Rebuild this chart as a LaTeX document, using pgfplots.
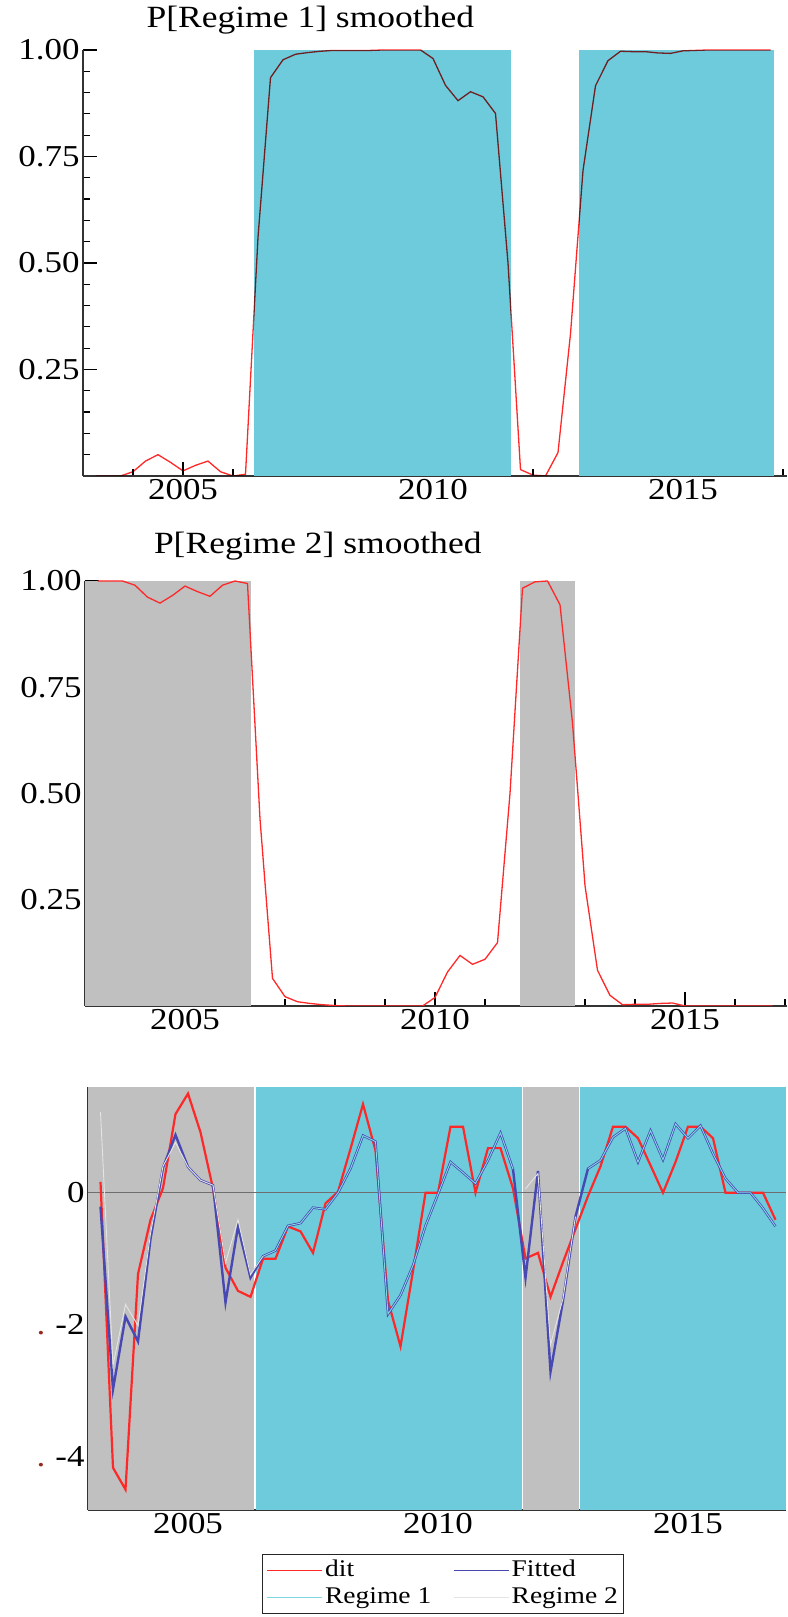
\documentclass[border=0pt]{standalone}
\usepackage{pgfplots}
\pgfplotsset{compat=1.18}
\usepackage{fontspec}
\setmainfont{Liberation Serif}[FakeStretch=1.15]

\definecolor{regA}{RGB}{110,203,219}
\definecolor{regB}{RGB}{192,192,192}
\definecolor{ditred}{RGB}{255,40,40}
\definecolor{fitblue}{RGB}{72,72,178}
\definecolor{reg1line}{RGB}{130,215,230}
\definecolor{reg2line}{RGB}{228,228,228}
\definecolor{zeroline}{RGB}{110,110,110}
\definecolor{dotred}{RGB}{150,40,30}

\pgfplotsset{
  oxstyle/.style={
    scale only axis,
    axis lines=left,
    axis line style={-, draw=black!80, line width=1.8bp},
    every tick/.style={black, line width=1.2bp},
    major tick length=14bp, minor tick length=7bp,
    tick align=inside,
    tick label style={font=\fontsize{30.5}{36}\selectfont},
    xtick={2005,2010,2015}, xticklabels={2005,2010,2015},
    minor xtick={2003,2004,...,2017},
    title style={anchor=base west, inner sep=0pt, font=\fontsize{31}{36}\selectfont},
  },
  probstyle/.style={
    ymin=0, ymax=1,
    ytick={0.25,0.5,0.75,1}, yticklabels={0.25,0.50,0.75,1.00},
    minor ytick={0.05,0.1,0.15,0.2,0.3,0.35,0.4,0.45,0.55,0.6,0.65,0.7,0.8,0.85,0.9,0.95},
  },
}

\pgfplotstableread{
t p1 p2
2003.25 0.000 1.000
2003.50 0.000 1.000
2003.75 0.000 1.000
2004.00 0.010 0.990
2004.25 0.035 0.962
2004.50 0.050 0.948
2004.75 0.032 0.966
2005.00 0.012 0.988
2005.25 0.025 0.975
2005.50 0.035 0.964
2005.75 0.010 0.990
2006.00 0.000 1.000
2006.25 0.004 0.994
2006.50 0.560 0.440
2006.75 0.935 0.065
2007.00 0.977 0.022
2007.25 0.990 0.010
2007.50 0.994 0.006
2007.75 0.997 0.003
2008.00 0.999 0.001
2008.25 0.999 0.000
2008.50 0.999 0.000
2008.75 0.999 0.000
2009.00 1.000 0.000
2009.25 1.000 0.000
2009.50 1.000 0.000
2009.75 1.000 0.000
2010.00 0.980 0.020
2010.25 0.917 0.080
2010.50 0.881 0.119
2010.75 0.902 0.098
2011.00 0.890 0.110
2011.25 0.851 0.149
2011.50 0.500 0.500
2011.75 0.015 0.983
2012.00 0.002 0.998
2012.25 0.000 1.000
2012.50 0.055 0.944
2012.75 0.334 0.666
2013.00 0.717 0.283
2013.25 0.916 0.084
2013.50 0.975 0.025
2013.75 0.997 0.003
2014.00 0.996 0.004
2014.25 0.996 0.004
2014.50 0.993 0.006
2014.75 0.992 0.007
2015.00 0.998 0.000
2015.25 0.999 0.000
2015.50 1.000 0.000
2015.75 1.000 0.000
2016.00 1.000 0.000
2016.25 1.000 0.000
2016.50 1.000 0.000
2016.75 1.000 0.000
}\probs

\pgfplotstableread{
t dit fitted
2003.25 0.165 -0.210
2003.50 -4.160 -2.975
2003.75 -4.490 -1.875
2004.00 -1.230 -2.250
2004.25 -0.410 -0.700
2004.50 0.070 0.380
2004.75 1.190 0.875
2005.00 1.500 0.390
2005.25 0.915 0.190
2005.50 0.065 0.115
2005.75 -1.135 -1.660
2006.00 -1.485 -0.510
2006.25 -1.575 -1.285
2006.50 -1.000 -0.960
2006.75 -1.000 -0.875
2007.00 -0.510 -0.500
2007.25 -0.585 -0.460
2007.50 -0.910 -0.225
2007.75 -0.160 -0.250
2008.00 0.015 0.000
2008.25 0.665 0.365
2008.50 1.340 0.865
2008.75 0.640 0.775
2009.00 -1.635 -1.835
2009.25 -2.325 -1.550
2009.50 -1.185 -1.100
2009.75 0.000 -0.500
2010.00 0.000 -0.020
2010.25 1.000 0.465
2010.50 1.000 0.305
2010.75 0.000 0.140
2011.00 0.675 0.490
2011.25 0.675 0.905
2011.50 0.065 0.355
2011.75 -0.995 -1.285
2012.00 -0.910 0.330
2012.25 -1.575 -2.710
2012.50 -1.050 -1.635
2012.75 -0.550 -0.360
2013.00 -0.050 0.365
2013.25 0.400 0.490
2013.50 1.000 0.840
2013.75 1.000 0.975
2014.00 0.825 0.465
2014.25 0.415 0.940
2014.50 0.000 0.500
2014.75 0.465 1.040
2015.00 1.000 0.825
2015.25 1.000 1.015
2015.50 0.825 0.590
2015.75 0.000 0.215
2016.00 0.000 0.000
2016.25 0.000 0.000
2016.50 0.000 -0.235
2016.75 -0.410 -0.510
}\fits

% regime 1 fitted values, shown in the regime 1 spells
\pgfplotstableread{
t r1
2006.50 -0.960
2006.75 -0.875
2007.00 -0.500
2007.25 -0.460
2007.50 -0.225
2007.75 -0.250
2008.00 0.000
2008.25 0.365
2008.50 0.865
2008.75 0.775
2009.00 -1.835
2009.25 -1.550
2009.50 -1.100
2009.75 -0.500
2010.00 -0.020
2010.25 0.465
2010.50 0.305
2010.75 0.140
2011.00 0.490
2011.25 0.905
2011.50 0.355
2011.75 nan
2013.00 0.365
2013.25 0.490
2013.50 0.840
2013.75 0.975
2014.00 0.465
2014.25 0.940
2014.50 0.500
2014.75 1.040
2015.00 0.825
2015.25 1.015
2015.50 0.590
2015.75 0.215
2016.00 0.000
2016.25 0.000
2016.50 -0.235
2016.75 -0.510
}\regone

% regime 2 fitted values, shown in the regime 2 spells
\pgfplotstableread{
t r2
2003.25 1.220
2003.50 -2.610
2003.75 -1.690
2004.00 -2.010
2004.25 -0.620
2004.50 0.400
2004.75 0.760
2005.00 0.390
2005.25 0.190
2005.50 0.115
2005.75 -1.060
2006.00 -0.410
2006.25 -1.240
2006.50 -0.960
2006.75 nan
2011.75 0.060
2012.00 0.290
2012.25 -2.300
2012.50 -1.600
2012.75 -0.360
}\regtwo

\begin{document}
\begin{tikzpicture}
\useasboundingbox (0,0) rectangle (788bp,1617bp);

% P[Regime 1]
\begin{axis}[oxstyle, probstyle,
  at={(83bp,1141bp)}, anchor=south west,
  width=704bp, height=426bp,
  xmin=2003, xmax=2017.08,
  title={P[Regime 1] smoothed},
  title style={at={(0.09,1)}, yshift=17bp},
]
\addplot[draw=none, fill=regA, forget plot] coordinates {(2006.42,0) (2006.42,1) (2011.55,1) (2011.55,0)} -- cycle;
\addplot[draw=none, fill=regA, forget plot] coordinates {(2012.92,0) (2012.92,1) (2016.81,1) (2016.81,0)} -- cycle;
\addplot[ditred, line width=1.3bp, blend mode=multiply] table[x=t, y=p1] {\probs};
\end{axis}

% P[Regime 2]
\begin{axis}[oxstyle, probstyle,
  at={(85bp,611bp)}, anchor=south west,
  width=702bp, height=425bp,
  xmin=2003, xmax=2017.04,
  title={P[Regime 2] smoothed},
  title style={at={(0.098,1)}, yshift=22bp},
]
\addplot[draw=none, fill=regB, forget plot] coordinates {(2003,0) (2003,1) (2006.31,1) (2006.31,0)} -- cycle;
\addplot[draw=none, fill=regB, forget plot] coordinates {(2011.69,0) (2011.69,1) (2012.8,1) (2012.8,0)} -- cycle;
\addplot[ditred, line width=1.3bp] table[x=t, y=p2] {\probs};
\end{axis}

% fitted values
\begin{axis}[oxstyle,
  at={(88bp,107bp)}, anchor=south west,
  width=698bp, height=423bp,
  xmin=2003, xmax=2016.96,
  ymin=-4.8, ymax=1.6,
  ytick={-4,-2,0},
  yticklabels={{\textcolor{dotred}{.}\hspace{10bp}-4},{\textcolor{dotred}{.}\hspace{10bp}-2},0},
  minor ytick={-4.4,-3.6,-3.2,-2.8,-2.4,-1.6,-1.2,-0.8,-0.4,0.4,0.8,1.2},
  unbounded coords=jump,
  legend columns=2,
  legend cell align=left,
  legend style={at={(0.509,0)}, anchor=north, yshift=-44bp,
    draw=black!85, line width=1.2bp, fill=white,
    font=\fontsize{24}{26}\selectfont,
    inner xsep=4bp, inner ysep=3bp, row sep=1bp,
    nodes={inner sep=2bp, text height=17bp, text depth=5bp},
    /tikz/every even column/.append style={column sep=20bp}},
  legend image code/.code={\draw[#1, line width=1.4bp] (0bp,0bp) -- (55bp,0bp);},
]
\addplot[draw=none, fill=regB, forget plot] coordinates {(2003,-4.8) (2003,1.6) (2006.32,1.6) (2006.32,-4.8)} -- cycle;
\addplot[draw=none, fill=regA, forget plot] coordinates {(2006.35,-4.8) (2006.35,1.6) (2011.67,1.6) (2011.67,-4.8)} -- cycle;
\addplot[draw=none, fill=regB, forget plot] coordinates {(2011.70,-4.8) (2011.70,1.6) (2012.81,1.6) (2012.81,-4.8)} -- cycle;
\addplot[draw=none, fill=regA, forget plot] coordinates {(2012.84,-4.8) (2012.84,1.6) (2016.96,1.6) (2016.96,-4.8)} -- cycle;
\addplot[zeroline, line width=1.2bp, forget plot] coordinates {(2003,0) (2016.96,0)};
\addplot[ditred, line width=2.2bp] table[x=t, y=dit] {\fits};
\addlegendentry{dit}
\addplot[fitblue, line width=2.4bp] table[x=t, y=fitted] {\fits};
\addlegendentry{Fitted}
\addplot[reg1line, line width=0.9bp] table[x=t, y=r1] {\regone};
\addlegendentry{Regime 1}
\addplot[reg2line, line width=0.9bp] table[x=t, y=r2] {\regtwo};
\addlegendentry{Regime 2}
\end{axis}
\end{tikzpicture}
\end{document}
